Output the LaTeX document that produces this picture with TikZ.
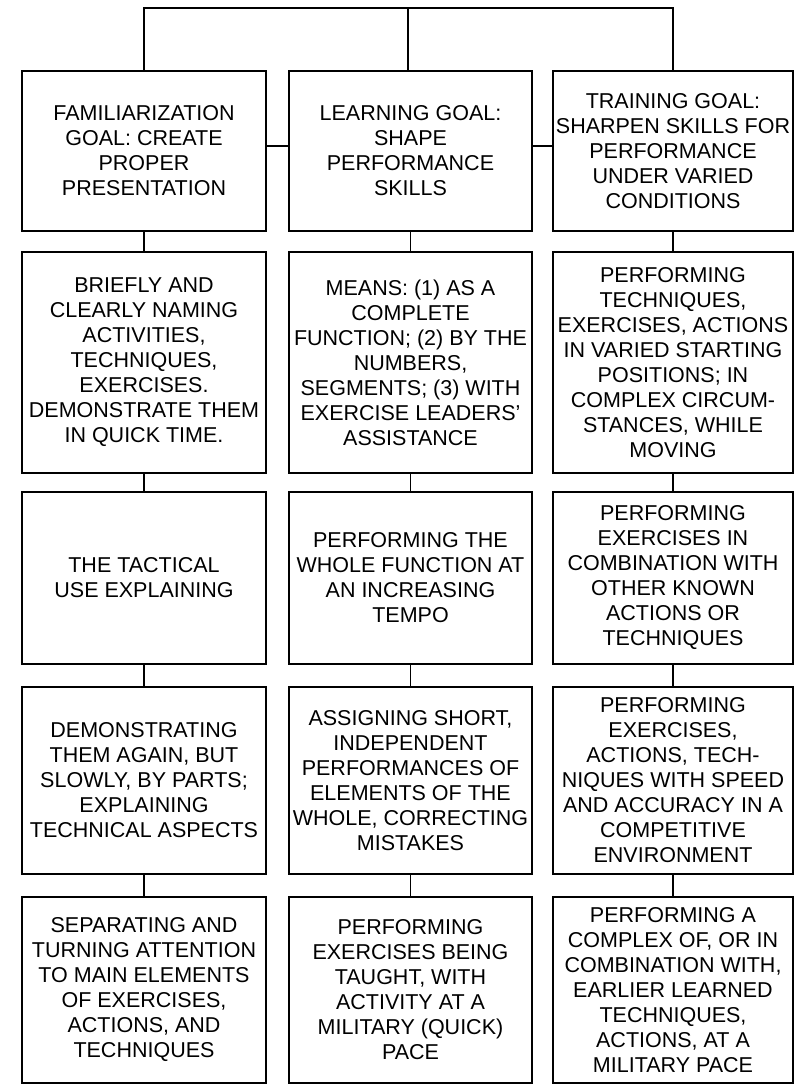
\documentclass[tikz,border=0pt]{standalone}
\usepackage{fontspec}
\setmainfont{Liberation Sans}
\usepackage{tikz}
\usetikzlibrary{positioning,calc}

\begin{document}
\begin{tikzpicture}[x=1pt,y=-1pt,line width=1.4pt,
    box/.style={draw, rectangle, align=center, inner sep=0pt,
      font=\fontsize{21.5}{25}\selectfont},
    col1/.style={box, minimum width=244pt},
    col2/.style={box, minimum width=243pt},
    col3/.style={box, minimum width=240pt}]
      \useasboundingbox (0,0) rectangle (801,1085);
      % goals
      \node[col1, minimum height=160pt] (famgoal) at (144,151)
        {FAMILIARIZATION\\GOAL: CREATE\\PROPER\\PRESENTATION};
      \node[col2, minimum height=160pt] (learngoal) at (410.5,151)
        {LEARNING GOAL:\\SHAPE\\PERFORMANCE\\SKILLS};
      \node[col3, minimum height=160pt] (traingoal) at (673,151)
        {TRAINING GOAL:\\SHARPEN SKILLS FOR\\PERFORMANCE\\UNDER VARIED\\CONDITIONS};
      % second row
      \node[col1, minimum height=221pt] (fam2) at (144,362.5)
        {BRIEFLY AND\\CLEARLY NAMING\\ACTIVITIES,\\TECHNIQUES,\\EXERCISES.\\DEMONSTRATE THEM\\IN QUICK TIME.};
      \node[col2, minimum height=221pt] (learn2) at (410.5,362.5)
        {MEANS: (1) AS A\\COMPLETE\\FUNCTION; (2) BY THE\\NUMBERS,\\SEGMENTS; (3) WITH\\EXERCISE LEADERS'\\ASSISTANCE};
      \node[col3, minimum height=221pt] (train2) at (673,362.5)
        {PERFORMING\\TECHNIQUES,\\EXERCISES, ACTIONS\\IN VARIED STARTING\\POSITIONS; IN\\COMPLEX CIRCUM-\\STANCES, WHILE\\MOVING};
      % third row
      \node[col1, minimum height=172pt] (fam3) at (144,578)
        {THE TACTICAL\\USE EXPLAINING};
      \node[col2, minimum height=172pt] (learn3) at (410.5,578)
        {PERFORMING THE\\WHOLE FUNCTION AT\\AN INCREASING\\TEMPO};
      \node[col3, minimum height=172pt] (train3) at (673,578)
        {PERFORMING\\EXERCISES IN\\COMBINATION WITH\\OTHER KNOWN\\ACTIONS OR\\TECHNIQUES};
      % fourth row
      \node[col1, minimum height=187pt] (fam4) at (144,780.5)
        {DEMONSTRATING\\THEM AGAIN, BUT\\SLOWLY, BY PARTS;\\EXPLAINING\\TECHNICAL ASPECTS};
      \node[col2, minimum height=187pt] (learn4) at (410.5,780.5)
        {ASSIGNING SHORT,\\INDEPENDENT\\PERFORMANCES OF\\ELEMENTS OF THE\\WHOLE, CORRECTING\\MISTAKES};
      \node[col3, minimum height=187pt] (train4) at (673,780.5)
        {PERFORMING\\EXERCISES,\\ACTIONS, TECH-\\NIQUES WITH SPEED\\AND ACCURACY IN A\\COMPETITIVE\\ENVIRONMENT};
      % fifth row
      \node[col1, minimum height=186pt] (fam5) at (144,990)
        {SEPARATING AND\\TURNING ATTENTION\\TO MAIN ELEMENTS\\OF EXERCISES,\\ACTIONS, AND\\TECHNIQUES};
      \node[col2, minimum height=186pt] (learn5) at (410.5,990)
        {PERFORMING\\EXERCISES BEING\\TAUGHT, WITH\\ACTIVITY AT A\\MILITARY (QUICK)\\PACE};
      \node[col3, minimum height=186pt] (train5) at (673,990)
        {PERFORMING A\\COMPLEX OF, OR IN\\COMBINATION WITH,\\EARLIER LEARNED\\TECHNIQUES,\\ACTIONS, AT A\\MILITARY PACE};
      % top bus
      \coordinate (bus) at (408,8);
      \draw (famgoal.north) |- (bus) -| (traingoal.north);
      \draw (bus) -- (bus |- learngoal.north);
      \draw (famgoal.east |- 0,146) -- (learngoal.west |- 0,146);
      \draw (learngoal.east |- 0,146) -- (traingoal.west |- 0,146);
      % columns
      \draw (famgoal) -- (fam2) (fam2) -- (fam3) (fam3) -- (fam4) (fam4) -- (fam5);
      \draw (learngoal) -- (learn2) (learn2) -- (learn3) (learn3) -- (learn4) (learn4) -- (learn5);
      \draw (traingoal) -- (train2) (train2) -- (train3) (train3) -- (train4) (train4) -- (train5);
    \end{tikzpicture}
\end{document}
